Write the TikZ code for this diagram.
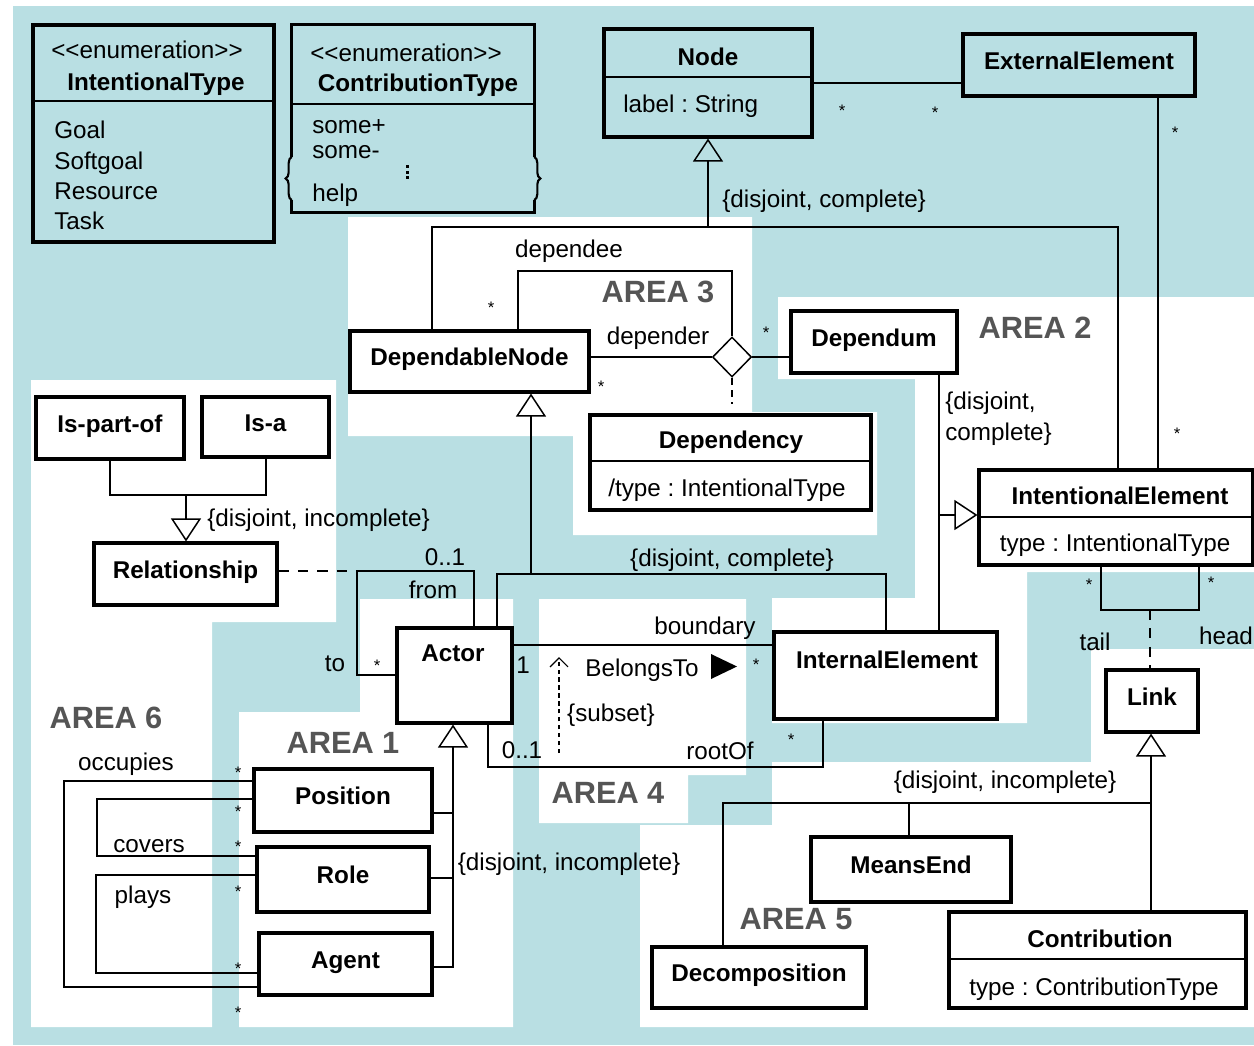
\documentclass[tikz,border=0pt]{standalone}
\usepackage{fontspec}
\setmainfont{Liberation Sans}[Ligatures=TeXOff]
\usetikzlibrary{shapes.geometric,arrows.meta,decorations.pathreplacing}
\definecolor{areablue}{RGB}{185,223,227}
\definecolor{areagray}{RGB}{85,85,85}
\newcommand{\nfont}{\fontsize{13.8}{17.6}\selectfont}
\frenchspacing

\begin{document}
\begin{tikzpicture}[
    x=0.02cm, y=-0.02cm,
    every node/.style={font=\nfont, inner sep=0pt, text height=10pt, text depth=0pt},
    cls/.style={rectangle, draw, line width=1.8pt, font=\nfont\bfseries, text depth=5.1pt},
    ttl/.style={font=\nfont\bfseries},
    sep/.style={line width=1.1pt},
    ln/.style={line width=0.85pt},
    gen/.style={line width=0.85pt, -{Triangle[open, length=0.46cm, width=0.6cm]}},
    dsh/.style={line width=0.85pt, dash pattern=on 5.5pt off 5pt},
    mult/.style={font=\fontsize{9.5}{10}\selectfont},
    area/.style={font=\fontsize{17.5}{20}\selectfont\bfseries, text=areagray, text height=12.5pt},
    brc/.style={line width=1.2pt, decorate, decoration={brace, amplitude=0.12cm}}
]
\useasboundingbox (0,0) rectangle (1254,1045);

% Background and areas
\fill[white] (0,0) rectangle (1254,1045);
\fill[areablue] (13,6) rectangle (1254,1045);
\fill[white] (348,217) -- (752,217) -- (752,412) -- (877,412) -- (877,535) -- (573,535) -- (573,436) -- (348,436) -- cycle;
\fill[white] (778,297) -- (1254,297) -- (1254,572) -- (1027,572) -- (1027,723) -- (772,723) -- (772,598) -- (915,598) -- (915,379) -- (778,379) -- cycle;
\fill[white] (31,380) -- (336,380) -- (336,622) -- (212,622) -- (212,1027) -- (31,1027) -- cycle;
\fill[white] (239,712) -- (360,712) -- (360,599) -- (513,599) -- (513,1027) -- (239,1027) -- cycle;
\fill[white] (539,599) -- (746,599) -- (746,775) -- (688,775) -- (688,823) -- (539,823) -- cycle;
\fill[white] (1091,649) -- (1254,649) -- (1254,1027) -- (640,1027) -- (640,825) -- (772,825) -- (772,762) -- (1091,762) -- cycle;

\node[area] (area1) at (343,743) {AREA 1};
\node[area] (area2) at (1035,328) {AREA 2};
\node[area] (area3) at (658,292) {AREA 3};
\node[area] (area4) at (608,793) {AREA 4};
\node[area] (area5) at (796,919) {AREA 5};
\node[area] (area6) at (106,718) {AREA 6};

% Enumerations
\node[cls, minimum width=4.82cm, minimum height=4.34cm] (itype) at (153.5,133.5) {};
\draw[sep] (itype.west |- 0,101) -- (itype.east |- 0,101);
\node (itypest) at (147,50) {<<enumeration>>};
\node[ttl] (itypenm) at (156,82) {IntentionalType};
\node[anchor=west] (goal) at (54,130) {Goal};
\node[anchor=west] (softgoal) at (54,161) {Softgoal};
\node[anchor=west] (resource) at (54,191) {Resource};
\node[anchor=west] (task) at (54,221) {Task};

\node[minimum width=4.84cm, minimum height=3.74cm] (ctype) at (413,118.5) {};
\draw[line width=1.8pt] (ctype.west |- 0,157) -- (ctype.north west) -- (ctype.north east) -- (ctype.east |- 0,157);
\draw[line width=1.8pt] (ctype.east |- 0,200) -- (ctype.south east) -- (ctype.south west) -- (ctype.west |- 0,200);
\draw[brc] (ctype.west |- 0,200) -- (ctype.west |- 0,157);
\draw[brc] (ctype.east |- 0,157) -- (ctype.east |- 0,200);
\draw[sep] (ctype.west |- 0,104) -- (ctype.east |- 0,104);
\node (ctypest) at (406,53) {<<enumeration>>};
\node[ttl] (ctypenm) at (418,83) {ContributionType};
\node[anchor=west] (someplus) at (312,125) {some+};
\node[anchor=west] (someminus) at (312,150) {some-};
\node[anchor=west] (help) at (312,193) {help};
\foreach \y in {165,170.5,176}
    \fill (405.5,\y) rectangle (409,\y+3);

% Classes
\node[cls, minimum width=4.16cm, minimum height=2.16cm] (node) at (708,83) {};
\draw[sep] (node.west |- 0,77) -- (node.east |- 0,77);
\node[ttl] (nodenm) at (708,57) {Node};
\node[anchor=west] (nodeatt) at (623,104) {label : String};

\node[cls, minimum width=4.64cm, minimum height=1.24cm] (extel) at (1079,65) {ExternalElement};
\node[cls, minimum width=4.78cm, minimum height=1.22cm] (dnode) at (469.5,361.5) {DependableNode};
\node[cls, minimum width=3.32cm, minimum height=1.24cm] (dependum) at (874,342) {Dependum};

\node[cls, minimum width=5.62cm, minimum height=1.9cm] (dependency) at (730.5,462.5) {};
\draw[sep] (dependency.west |- 0,461) -- (dependency.east |- 0,461);
\node[ttl] (dependencynm) at (731,440) {Dependency};
\node (dependencyatt) at (727,488) {/type : IntentionalType};

\node[cls, minimum width=5.48cm, minimum height=1.9cm] (ielem) at (1116,517.5) {};
\draw[sep] (ielem.west |- 0,517) -- (ielem.east |- 0,517);
\node[ttl] (ielemnm) at (1120,496) {IntentionalElement};
\node (ielematt) at (1115,543) {type : IntentionalType};

\node[cls, minimum width=2.96cm, minimum height=1.24cm] (ispartof) at (110,428) {Is-part-of};
\node[cls, minimum width=2.54cm, minimum height=1.2cm] (isa) at (265.5,427) {Is-a};
\node[cls, minimum width=3.66cm, minimum height=1.24cm] (rel) at (185.5,574) {Relationship};

\node[cls, minimum width=2.3cm, minimum height=1.9cm] (actor) at (454.5,675.5) {};
\node[ttl] (actornm) at (453,653) {Actor};
\node[cls, minimum width=4.46cm, minimum height=1.74cm] (iel) at (885.5,675.5) {};
\node[ttl] (ielnm) at (887,660) {InternalElement};

\node[cls, minimum width=3.56cm, minimum height=1.26cm] (position) at (343,800.5) {Position};
\node[cls, minimum width=3.44cm, minimum height=1.3cm] (role) at (343,879.5) {Role};
\node[cls, minimum width=3.46cm, minimum height=1.24cm] (agent) at (345.5,964) {Agent};

\node[cls, minimum width=1.84cm, minimum height=1.24cm] (link) at (1152,701) {Link};
\node[cls, minimum width=4.0cm, minimum height=1.3cm] (meansend) at (911,869.5) {MeansEnd};
\node[cls, minimum width=4.28cm, minimum height=1.22cm] (decomp) at (759,977.5) {Decomposition};
\node[cls, minimum width=5.94cm, minimum height=1.92cm] (contrib) at (1097.5,960) {};
\draw[sep] (contrib.west |- 0,959) -- (contrib.east |- 0,959);
\node[ttl] (contribnm) at (1100,939) {Contribution};
\node (contribatt) at (1094,987) {type : ContributionType};

\node[diamond, draw, fill=white, line width=0.85pt, minimum width=0.78cm, minimum height=0.8cm, text height=0pt] (dia) at (732,357) {};

% Node and ExternalElement
\draw[ln] (node.east) -- (node.east -| extel.west);
\draw[ln] (extel.south -| 1158,0) -- (ielem.north -| 1158,0);
\node[mult] (m1) at (842,108) {*};
\node[mult] (m2) at (935,110) {*};
\node[mult] (m3) at (1175,130) {*};
\node[mult] (m4) at (1177,431) {*};
\draw[gen] (708,227) -- (node.south);
\draw[ln] (dnode.north -| 432,0) |- (1118,227) -- (ielem.north -| 1118,0);
\node[anchor=west] (gen1) at (722,199) {\{disjoint, complete\}};

% Dependency
\draw[ln] (dnode.north -| 518,0) |- (dia.north |- 0,271) -- (dia.north);
\draw[ln] (dnode.east |- dia.west) -- (dia.west);
\draw[ln] (dia.east) -- (dia.east -| dependum.west);
\coordinate (dashend) at (732,404);
\draw[line width=0.85pt, dash pattern=on 4pt off 3pt] (dia.south) -- (dashend);
\node (dependee) at (569,249) {dependee};
\node (depender) at (658,336) {depender};
\node[mult] (m5) at (491,305) {*};
\node[mult] (m6) at (601,384) {*};
\node[mult] (m7) at (766,330) {*};

% Dependum and InternalElement
\draw[ln] (dependum.south -| 939,0) -- (939,515);
\draw[ln] (iel.north -| 939,0) -- (939,515);
\draw[gen] (939,515) -- (ielem.west |- 0,515);
\node[anchor=west] (gen2a) at (945,401) {\{disjoint,};
\node[anchor=west] (gen2b) at (945,432) {complete\}};

% Link
\draw[ln] (ielem.south -| 1101,0) |- (1199,610) -- (ielem.south -| 1199,0);
\draw[dsh] (1150,610) -- (link.north -| 1150,0);
\node[mult] (m8) at (1089,582) {*};
\node[mult] (m9) at (1211,580) {*};
\node (tail) at (1095,642) {tail};
\node (head) at (1226,636) {head};
\draw[gen] (contrib.north -| 1151,0) -- (link.south -| 1151,0);
\draw[ln] (decomp.north -| 723,0) |- (1151,803);
\draw[ln] (meansend.north -| 909,0) -- (909,803);
\node (gen3) at (1005,780) {\{disjoint, incomplete\}};

% Relationship
\draw[ln] (ispartof.south -| 110,0) |- (266,495) -- (isa.south -| 266,0);
\draw[gen] (186,495) -- (rel.north -| 186,0);
\node[anchor=west] (gen4) at (207,518) {\{disjoint, incomplete\}};
\draw[ln] (actor.north -| 474,0) |- (357,571) |- (actor.west |- 0,675);
\draw[line width=0.85pt, dash pattern=on 6pt off 5pt] (rel.east |- 0,571) -- (357,571);
\node (zeroone1) at (445,557) {0..1};
\node (from) at (433,590) {from};
\node (to) at (335,663) {to};
\node[mult] (m10) at (377,663) {*};

% Actor and InternalElement
\draw[ln] (actor.north -| 497,0) |- (886,574) -- (iel.north -| 886,0);
\draw[gen] (531,574) -- (dnode.south -| 531,0);
\node (gen5) at (732,558) {\{disjoint, complete\}};
\draw[ln] (actor.east |- 0,645) -- (iel.west |- 0,645);
\node (boundary) at (705,626) {boundary};
\node (one) at (523,665) {1};
\node[mult] (m11) at (756,662) {*};
\node (belongs) at (642,668) {BelongsTo};
\fill (711,654) -- (737,666.5) -- (711,679) -- cycle;
\coordinate (subtail) at (559,753);
\coordinate (subhead) at (559,657);
\draw[line width=0.7pt, dash pattern=on 2.5pt off 2pt, -{Straight Barb[length=0.18cm, width=0.36cm]}] (subtail) -- (subhead);
\node (subset) at (611,713) {\{subset\}};
\draw[ln] (actor.south -| 488,0) |- (823,767) -- (iel.south -| 823,0);
\node (zeroone2) at (522,750) {0..1};
\node (rootof) at (720,751) {rootOf};
\node[mult] (m12) at (791,737) {*};

% Actor specialisations
\draw[gen] (agent.east |- 0,967) -| (actor.south -| 453,0);
\draw[ln] (position.east |- 0,813) -- (453,813);
\draw[ln] (role.east |- 0,878) -- (453,878);
\node (gen6) at (569,862) {\{disjoint, incomplete\}};

% Position, Role, Agent
\draw[ln] (position.west |- 0,781) -| (64,987) -- (agent.west |- 0,987);
\draw[ln] (position.west |- 0,799) -| (97,856) -- (role.west |- 0,856);
\draw[ln] (role.west |- 0,875) -| (96,973) -- (agent.west |- 0,973);
\node (occupies) at (126,762) {occupies};
\node (covers) at (149,844) {covers};
\node (plays) at (143,895) {plays};
\foreach \y/\n in {770/a,809/b,844/c,889/d,966/e,1010/f}
    \node[mult] (s\n) at (238,\y) {*};

\end{tikzpicture}
\end{document}
